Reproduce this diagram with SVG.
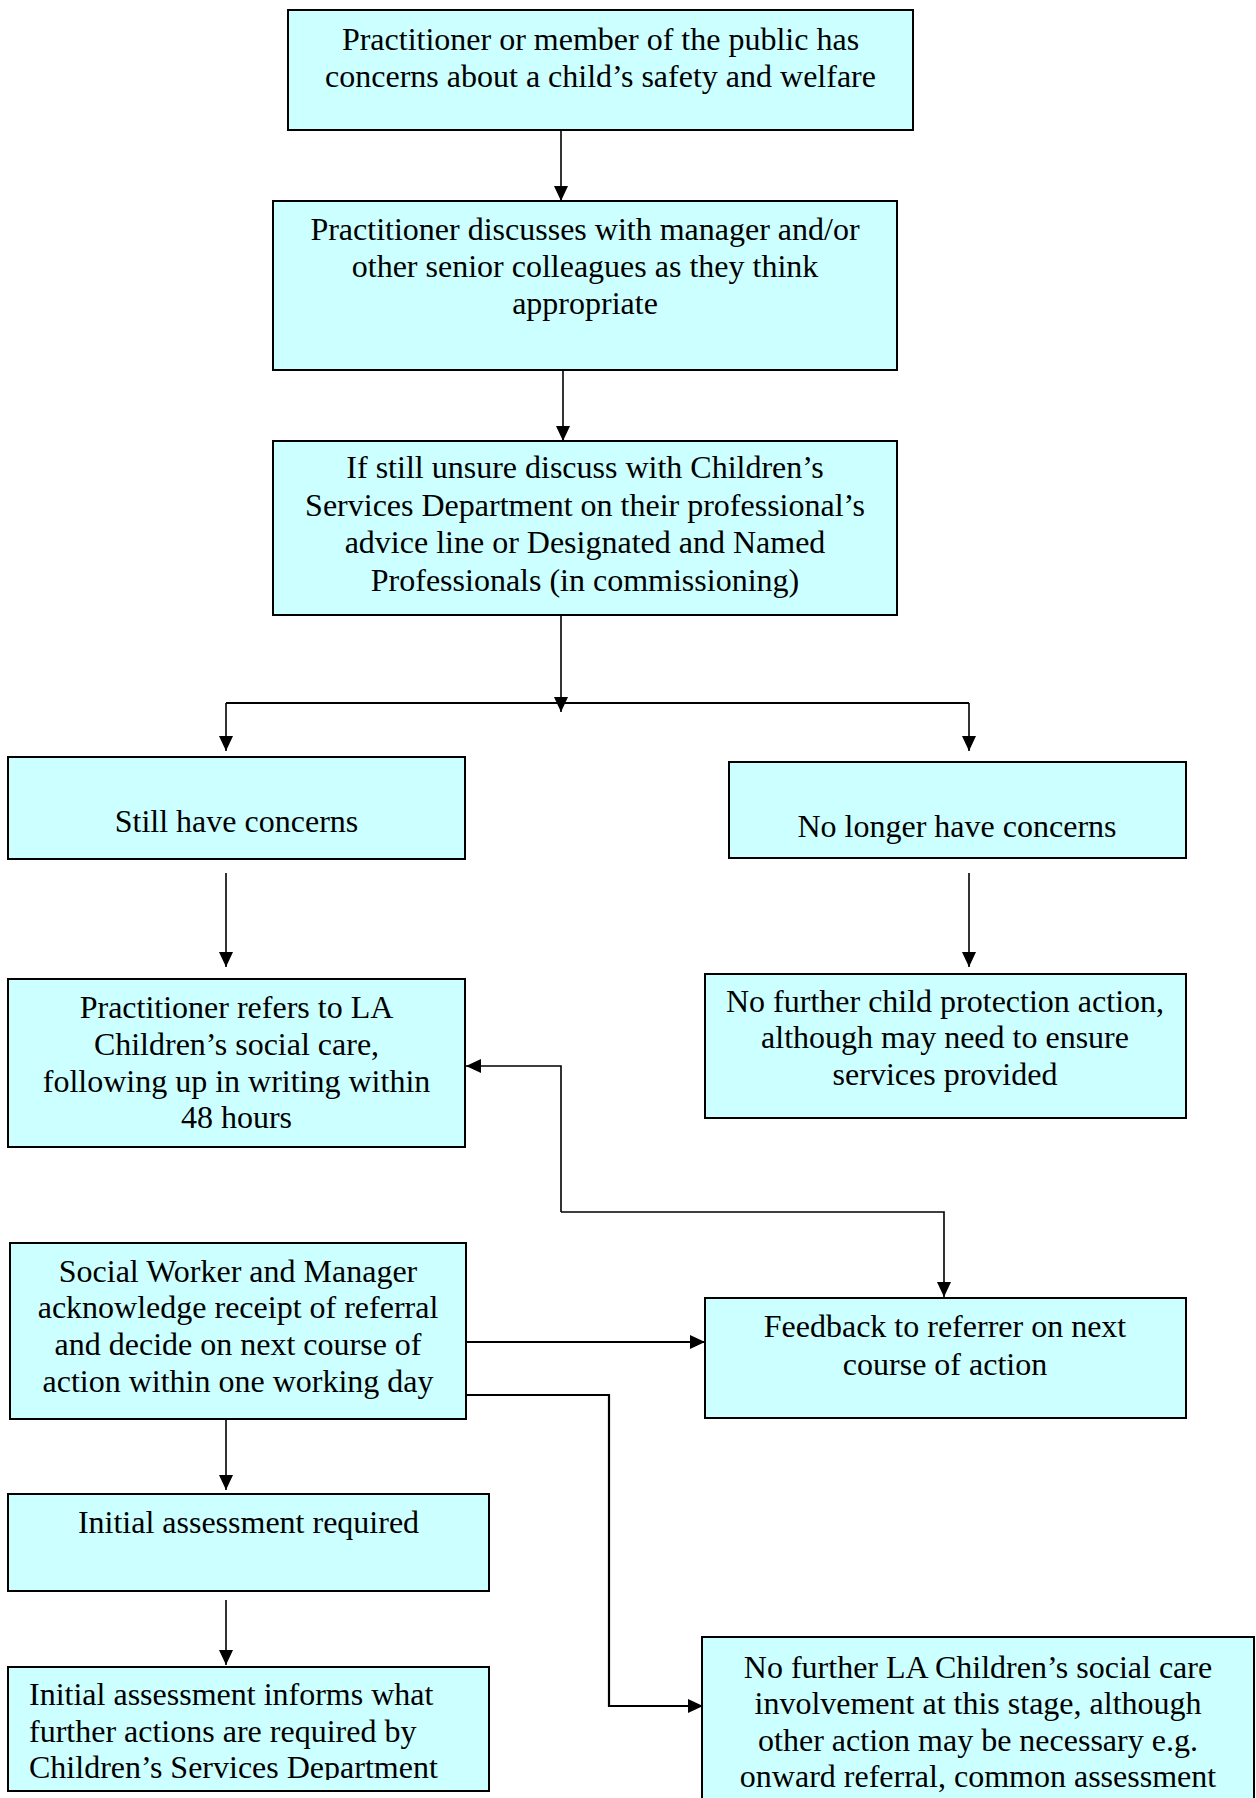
<svg xmlns="http://www.w3.org/2000/svg" width="1256" height="1798" viewBox="0 0 1256 1798">
<defs>
<style>
.box{fill:#CCFFFF;stroke:#000;stroke-width:2}
.t{font-family:"Liberation Serif","Times New Roman",serif;font-size:32px;fill:#000;text-anchor:middle}
.tl{font-family:"Liberation Serif","Times New Roman",serif;font-size:32px;fill:#000;text-anchor:start}
.c{fill:none;stroke:#000;stroke-width:1.6}
.c2{fill:none;stroke:#000;stroke-width:2.2}
</style>
<marker id="ah" markerUnits="userSpaceOnUse" markerWidth="16" markerHeight="14" refX="15" refY="7" orient="auto">
<path d="M0,0 L15,7 L0,14 z" fill="#000"/>
</marker>
<clipPath id="clipInforms"><rect x="8" y="1667" width="481" height="113"/></clipPath>
</defs>
<rect width="1256" height="1798" fill="#fff"/>
<g id="connectors">
<path class="c" d="M561,130 L561,201" marker-end="url(#ah)"/>
<path class="c" d="M563,370 L563,441" marker-end="url(#ah)"/>
<path class="c" d="M561,615 L561,712" marker-end="url(#ah)"/>
<path class="c2" d="M226,703 L969,703"/>
<path class="c" d="M226,703 L226,751" marker-end="url(#ah)"/>
<path class="c" d="M969,703 L969,751" marker-end="url(#ah)"/>
<path class="c" d="M226,873 L226,967" marker-end="url(#ah)"/>
<path class="c" d="M969,873 L969,967" marker-end="url(#ah)"/>
<path class="c" d="M561,1212 L561,1066 L466,1066" marker-end="url(#ah)"/>
<path class="c" d="M561,1212 L944,1212 L944,1297" marker-end="url(#ah)"/>
<path class="c2" d="M466,1342 L705,1342" marker-end="url(#ah)"/>
<path class="c2" d="M466,1395 L609,1395 L609,1706 L703,1706" marker-end="url(#ah)"/>
<path class="c" d="M226,1419 L226,1490" marker-end="url(#ah)"/>
<path class="c" d="M226,1600 L226,1665" marker-end="url(#ah)"/>
</g>
<g id="n1">
<rect class="box" x="288" y="10" width="625" height="120"/>
<text class="t" x="600.5" y="50">Practitioner or member of the public has</text>
<text class="t" x="600.5" y="87">concerns about a child’s safety and welfare</text>
</g>
<g id="n2">
<rect class="box" x="273" y="201" width="624" height="169"/>
<text class="t" x="585" y="240">Practitioner discusses with manager and/or</text>
<text class="t" x="585" y="277">other senior colleagues as they think</text>
<text class="t" x="585" y="314">appropriate</text>
</g>
<g id="n3">
<rect class="box" x="273" y="441" width="624" height="174"/>
<text class="t" x="585" y="478">If still unsure discuss with Children’s</text>
<text class="t" x="585" y="515.5">Services Department on their professional’s</text>
<text class="t" x="585" y="553">advice line or Designated and Named</text>
<text class="t" x="585" y="590.5">Professionals (in commissioning)</text>
</g>
<g id="n4">
<rect class="box" x="8" y="757" width="457" height="102"/>
<text class="t" x="236.5" y="832">Still have concerns</text>
</g>
<g id="n5">
<rect class="box" x="729" y="762" width="457" height="96"/>
<text class="t" x="957" y="837">No longer have concerns</text>
</g>
<g id="n6">
<rect class="box" x="8" y="979" width="457" height="168"/>
<text class="t" x="236.5" y="1018">Practitioner refers to LA</text>
<text class="t" x="236.5" y="1055">Children’s social care,</text>
<text class="t" x="236.5" y="1092">following up in writing within</text>
<text class="t" x="236.5" y="1128">48 hours</text>
</g>
<g id="n7">
<rect class="box" x="705" y="974" width="481" height="144"/>
<text class="t" x="945" y="1012">No further child protection action,</text>
<text class="t" x="945" y="1048">although may need to ensure</text>
<text class="t" x="945" y="1085">services provided</text>
</g>
<g id="n8">
<rect class="box" x="10" y="1243" width="456" height="176"/>
<text class="t" x="238" y="1282">Social Worker and Manager</text>
<text class="t" x="238" y="1318">acknowledge receipt of referral</text>
<text class="t" x="238" y="1355">and decide on next course of</text>
<text class="t" x="238" y="1392">action within one working day</text>
</g>
<g id="n9">
<rect class="box" x="705" y="1298" width="481" height="120"/>
<text class="t" x="945" y="1337">Feedback to referrer on next</text>
<text class="t" x="945" y="1375">course of action</text>
</g>
<g id="n10">
<rect class="box" x="8" y="1494" width="481" height="97"/>
<text class="t" x="248.5" y="1533">Initial assessment required</text>
</g>
<g id="n11">
<rect class="box" x="8" y="1667" width="481" height="124"/>
<g clip-path="url(#clipInforms)">
<text class="tl" x="29" y="1705">Initial assessment informs what</text>
<text class="tl" x="29" y="1742">further actions are required by</text>
<text class="tl" x="29" y="1778">Children’s Services Department</text>
</g>
</g>
<g id="n12">
<rect class="box" x="702" y="1637" width="552" height="175"/>
<text class="t" x="978" y="1678">No further LA Children’s social care</text>
<text class="t" x="978" y="1714">involvement at this stage, although</text>
<text class="t" x="978" y="1751">other action may be necessary e.g.</text>
<text class="t" x="978" y="1787">onward referral, common assessment</text>
</g>
</svg>
